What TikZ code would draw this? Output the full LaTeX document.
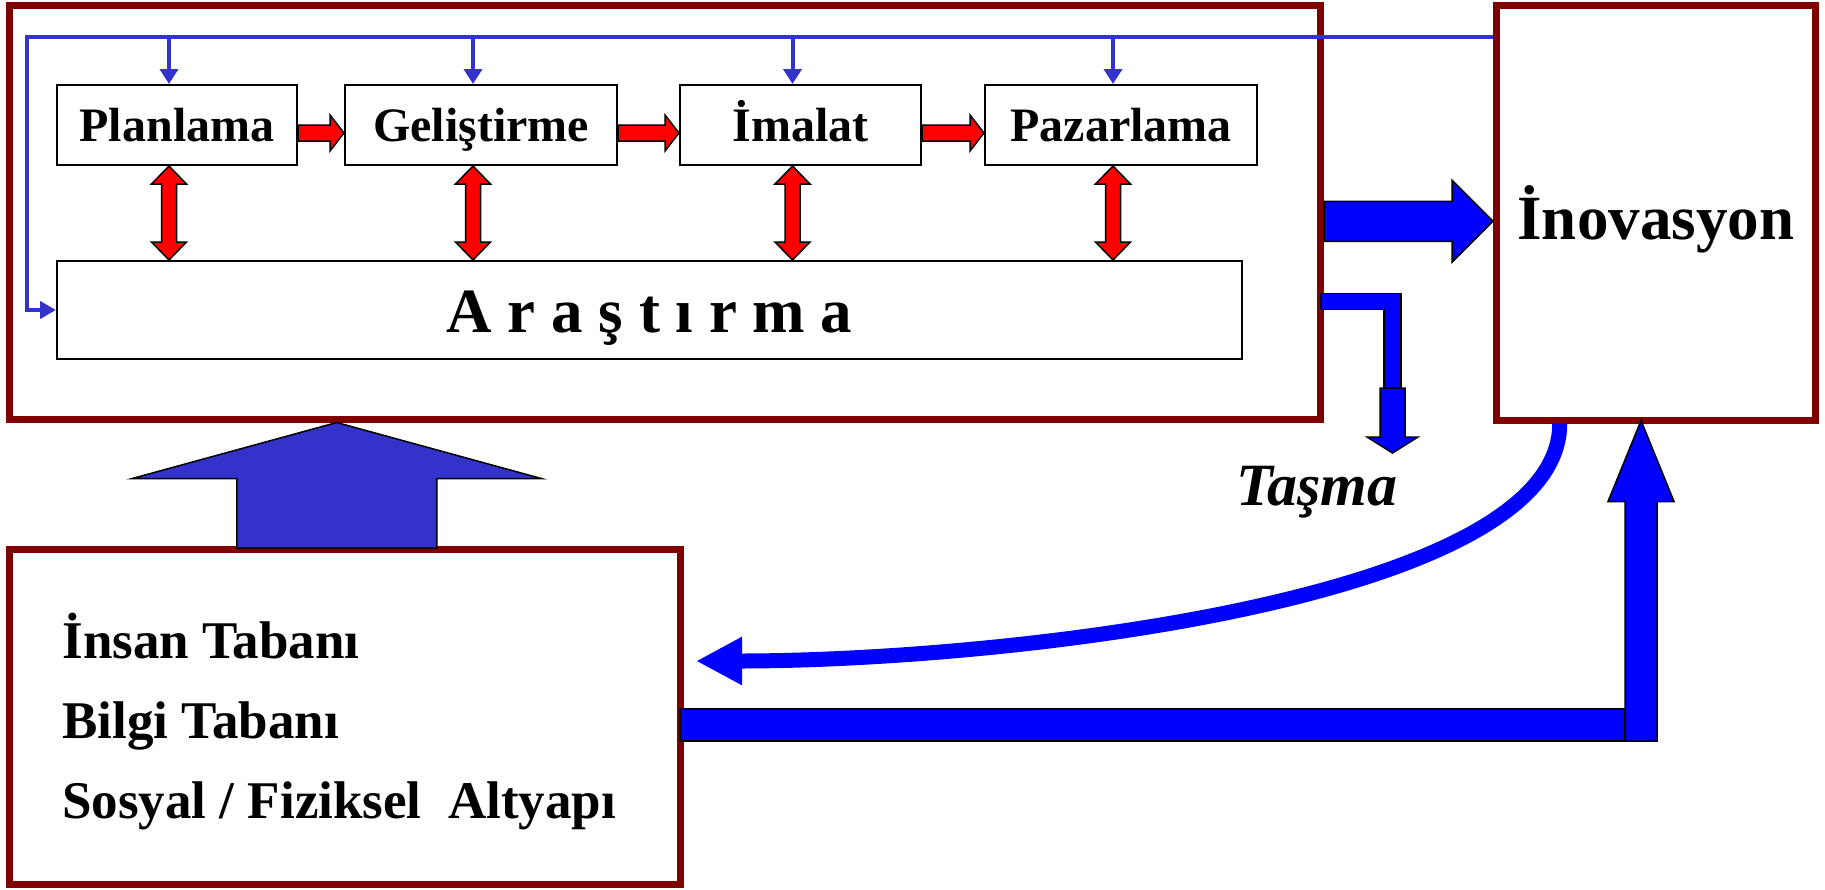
\documentclass[tikz,border=0pt]{standalone}
\usepackage{fontspec}
\setmainfont{Liberation Serif}
\usetikzlibrary{calc,arrows.meta}

\definecolor{frameRed}{HTML}{800000}
\definecolor{lineBlue}{HTML}{3333CC}
\definecolor{flowBlue}{HTML}{0000FF}
\definecolor{flowRed}{HTML}{FF0000}

\tikzset{
  frame/.style={draw=frameRed, line width=3.5pt, inner sep=0pt},
  stage/.style={draw=black, line width=1pt, fill=white, inner sep=0pt,
    minimum height=40pt, text height=16pt, text depth=0pt,
    font=\fontsize{24pt}{28pt}\selectfont\bfseries},
  basetext/.style={anchor=base west, inner sep=0pt,
    font=\fontsize{26.5pt}{32pt}\selectfont\bfseries},
  feed/.style={draw=lineBlue, line width=2pt},
  redarrow/.style={fill=flowRed, draw=black, line width=0.75pt},
  bluearrow/.style={fill=flowBlue, draw=black, line width=0.75pt},
  liftarrow/.style={fill=lineBlue, draw=black, line width=0.75pt},
}

% block arrows: #1 style, #2 tail, #3 head point, #4 shaft half width,
% #5 head half width, #6 head length
\newcommand\fatright[6]{%
  \filldraw[#1] let \p1=#2, \p2=#3 in
    (\x1,\y1+#4) -- (\x2-#6,\y1+#4) -- (\x2-#6,\y1+#5) -- (\x2,\y1)
    -- (\x2-#6,\y1-#5) -- (\x2-#6,\y1-#4) -- (\x1,\y1-#4) -- cycle;}
\newcommand\fatupdown[6]{%
  \filldraw[#1] let \p1=#2, \p2=#3 in
    (\x1,\y1) -- (\x1+#5,\y1-#6) -- (\x1+#4,\y1-#6) -- (\x1+#4,\y2+#6)
    -- (\x1+#5,\y2+#6) -- (\x1,\y2) -- (\x1-#5,\y2+#6) -- (\x1-#4,\y2+#6)
    -- (\x1-#4,\y1-#6) -- (\x1-#5,\y1-#6) -- cycle;}
\newcommand\fatup[6]{%
  \filldraw[#1] let \p1=#2, \p2=#3 in
    (\x1-#4,\y1) -- (\x1-#4,\y2-#6) -- (\x1-#5,\y2-#6) -- (\x1,\y2)
    -- (\x1+#5,\y2-#6) -- (\x1+#4,\y2-#6) -- (\x1+#4,\y1) -- cycle;}
\newcommand\fatdown[6]{%
  \filldraw[#1] let \p1=#2, \p2=#3 in
    (\x1-#4,\y1) -- (\x1-#4,\y2+#6) -- (\x1-#5,\y2+#6) -- (\x1,\y2)
    -- (\x1+#5,\y2+#6) -- (\x1+#4,\y2+#6) -- (\x1+#4,\y1) -- cycle;}

\begin{document}
\begin{tikzpicture}[x=0.5pt,y=-0.5pt]
\useasboundingbox (0,0) rectangle (1825,889);
\fill[white] (0,0) rectangle (1825,889);

% outer frames
\node[frame, minimum width=655.75pt, minimum height=206.75pt] (firm) at (664.75,212.25) {};
\node[frame, minimum width=159.25pt, minimum height=207.25pt,
      text height=26.25pt, text depth=0pt,
      font=\fontsize{31.5pt}{36pt}\selectfont\bfseries] (inov) at (1655.75,212.75) {İnovasyon};
\node[frame, minimum width=335.75pt, minimum height=167.5pt] (base) at (344.75,717) {};

% stages of the firm
\node[stage, minimum width=120pt]   (plan) at (177,125)   {Planlama};
\node[stage, minimum width=136pt]   (gel)  at (481,125)   {Geliştirme};
\node[stage, minimum width=120.5pt] (ima)  at (800.5,125) {İmalat};
\node[stage, minimum width=136pt]   (paz)  at (1121,125)  {Pazarlama};
\node[stage, minimum width=592.5pt, minimum height=49pt, text height=22pt,
      font=\fontsize{31.5pt}{36pt}\selectfont\bfseries] (arast) at (649.5,310) {A r a ş t ı r m a};

% foundation texts
\node[basetext] (human)  at (62,658) {İnsan Tabanı};
\node[basetext] (know)   at (62,738) {Bilgi Tabanı};
\node[basetext] (infra)  at (62,818) {Sosyal / Fiziksel\ \ Altyapı};

\node[anchor=base east, inner sep=0pt,
      font=\fontsize{30pt}{34pt}\selectfont\bfseries\itshape] (tasma) at (1398,505) {Taşma};

% columns of the stage connectors
\coordinate (c1) at ($(plan.center)+(-8,0)$);
\coordinate (c2) at ($(gel.center)+(-8,0)$);
\coordinate (c3) at ($(ima.center)+(-8,0)$);
\coordinate (c4) at ($(paz.center)+(-8,0)$);
\coordinate (tl) at (27,37);

% feedback from innovation
\draw[feed, -{Triangle[length=8pt,width=8.5pt]}] (inov.west |- tl) -- (tl) |- (arast.west);
\foreach \c/\n in {c1/plan, c2/gel, c3/ima, c4/paz}
  \draw[feed, -{Triangle[length=7.5pt,width=9pt]}] (\c |- tl) -- (\c |- \n.north);

% flow between stages
\fatright{redarrow}{($(plan.east)+(0,8)$)}{(gel.west)}{4pt}{9pt}{7pt}
\fatright{redarrow}{($(gel.east)+(0,8)$)}{(ima.west)}{4pt}{9pt}{7pt}
\fatright{redarrow}{($(ima.east)+(0,8)$)}{(paz.west)}{4pt}{9pt}{7pt}

% links with research
\fatupdown{redarrow}{(c1 |- plan.south)}{(arast.north)}{3.75pt}{8.75pt}{9pt}
\fatupdown{redarrow}{(c2 |- gel.south)}{(arast.north)}{3.75pt}{8.75pt}{9pt}
\fatupdown{redarrow}{(c3 |- ima.south)}{(arast.north)}{3.75pt}{8.75pt}{9pt}
\fatupdown{redarrow}{(c4 |- paz.south)}{(arast.north)}{3.75pt}{8.75pt}{9pt}

% firm to innovation
\fatright{bluearrow}{($(firm.east)+(0,9)$)}{(inov.west)}{10pt}{20.5pt}{20.5pt}

% spill-over
\coordinate (spill) at (1392.5,453);
\filldraw[bluearrow] let \p1=($(firm.east)+(0,89)$), \p2=(spill) in
  (\x1-1.5pt,\y1+4pt) -- (\x2+4.25pt,\y1+4pt) -- (\x2+4.25pt,\y2+32.5pt)
  -- (\x2-4.25pt,\y2+32.5pt) -- (\x2-4.25pt,\y1-4pt) -- (\x1-1.5pt,\y1-4pt) -- cycle;
\fatdown{bluearrow}{($(spill)+(0,-65)$)}{(spill)}{6.25pt}{12.75pt}{8pt}

% foundations support the firm
\fatup{liftarrow}{($(base.north)+(-8,2)$)}{(firm.south)}{50pt}{102.25pt}{28pt}

% foundations to innovation
\coordinate (elbow) at (1641,725);
\filldraw[bluearrow] let \p1=(base.east), \p2=(elbow) in
  (\x1-2pt,\y2+8pt) rectangle (\x2-8pt,\y2-8pt);
\fatup{bluearrow}{($(elbow)+(0,16)$)}{($(inov.south)+(0,-3)$)}{8pt}{16.5pt}{40.5pt}

% innovation back to the foundations
\draw[flowBlue, line width=7.5pt, -{Triangle[length=23pt,width=22.5pt]}]
  ($(inov.south)+(-96,0)$) .. controls (1560,600) and (1000,661) .. ($(base.east)+(12,-56)$);
\end{tikzpicture}
\end{document}
